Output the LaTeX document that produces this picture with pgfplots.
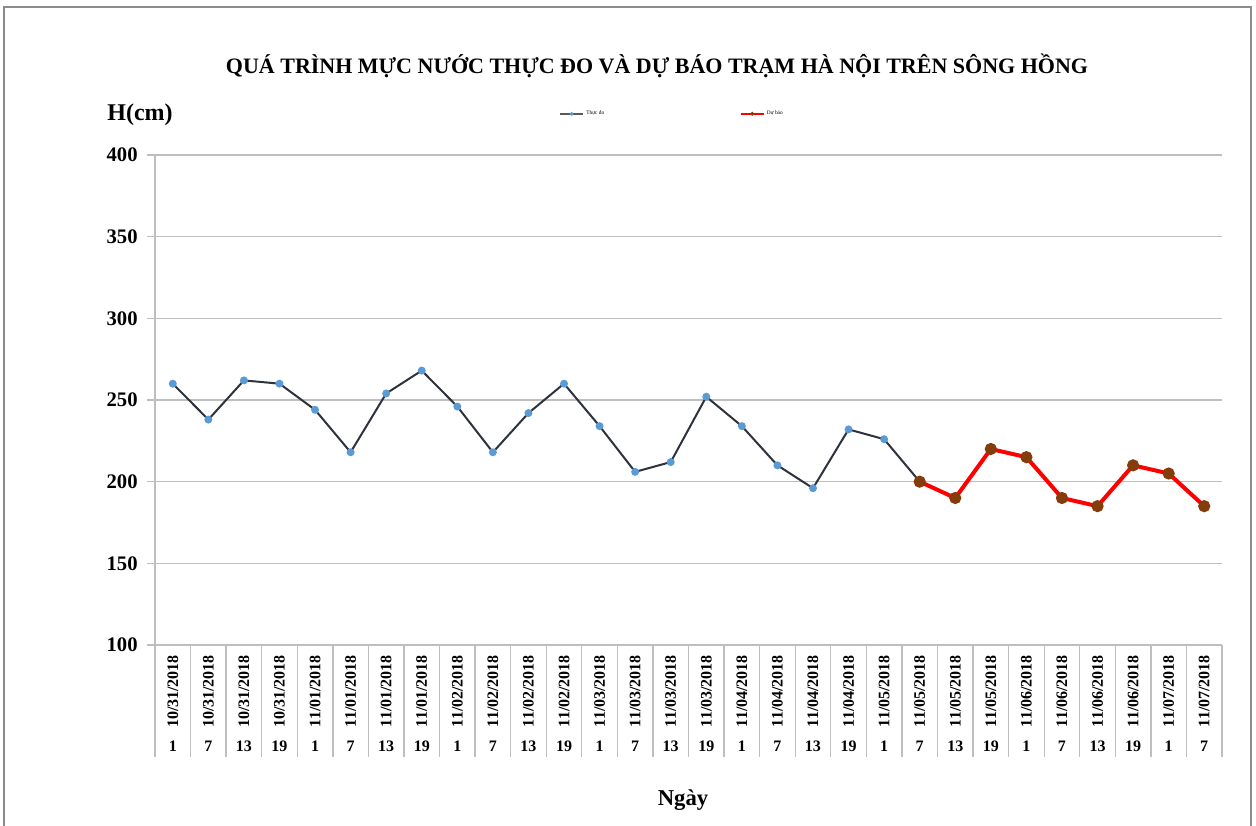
\documentclass[border=0pt]{standalone}
\usepackage{graphicx}
\usepackage{pgfplots}
\pgfplotsset{compat=1.18}
\usepackage{fontspec}
\setmainfont{Liberation Serif}
\definecolor{obsline}{RGB}{45,50,60}
\definecolor{obsmark}{RGB}{91,155,213}
\definecolor{fcline}{RGB}{255,0,0}
\definecolor{fcmark}{RGB}{132,60,12}
\definecolor{gridc}{RGB}{190,190,190}
\newcommand\lb[2]{\rotatebox{90}{#1}\\[5pt]#2}
\begin{document}
\begin{tikzpicture}[x=0.75pt,y=0.75pt]
\useasboundingbox (0,0) rectangle (1256,825);
\draw[gray!90, line width=1.1pt] (4,-5) -- (4,818) -- (1251,818) -- (1251,-5);
\node[font=\bfseries\fontsize{16.5}{18}\selectfont] at (657,759) {QUÁ TRÌNH MỰC NƯỚC THỰC ĐO VÀ DỰ BÁO TRẠM HÀ NỘI TRÊN SÔNG HỒNG};
\node[font=\bfseries\fontsize{18}{20}\selectfont] at (140,710) {H(cm)};
\node[font=\bfseries\fontsize{17}{19}\selectfont] at (683,25) {Ngày};
\begin{axis}[at={(116.25pt,135pt)}, anchor=south west, scale only axis,
  width=800.25pt, height=367.5pt,
  xmin=-0.5, xmax=29.5, ymin=100, ymax=400,
  ytick={100,150,...,400},
  axis x line*=bottom, axis y line*=left,
  axis line style={gridc, line width=1pt},
  ymajorgrids, grid style={gridc, line width=0.8pt},
  tick align=outside, major tick length=6pt,
  y tick style={gridc, line width=0.8pt},
  xtick={0,...,29}, major x tick style={draw=none},
  minor xtick={-0.5,0.5,...,29.5},
  minor x tick style={gridc, line width=1pt}, minor tick length=84pt,
  /pgf/number format/assume math mode=true,
  yticklabel style={font=\bfseries\fontsize{15.5}{16}\selectfont, xshift=-3.5pt},
  xticklabel style={font=\bfseries\fontsize{12}{13}\selectfont, align=center, anchor=north, yshift=2pt},
  xticklabels={
    \lb{10/31/2018}{1},\lb{10/31/2018}{7},\lb{10/31/2018}{13},\lb{10/31/2018}{19},
    \lb{11/01/2018}{1},\lb{11/01/2018}{7},\lb{11/01/2018}{13},\lb{11/01/2018}{19},
    \lb{11/02/2018}{1},\lb{11/02/2018}{7},\lb{11/02/2018}{13},\lb{11/02/2018}{19},
    \lb{11/03/2018}{1},\lb{11/03/2018}{7},\lb{11/03/2018}{13},\lb{11/03/2018}{19},
    \lb{11/04/2018}{1},\lb{11/04/2018}{7},\lb{11/04/2018}{13},\lb{11/04/2018}{19},
    \lb{11/05/2018}{1},\lb{11/05/2018}{7},\lb{11/05/2018}{13},\lb{11/05/2018}{19},
    \lb{11/06/2018}{1},\lb{11/06/2018}{7},\lb{11/06/2018}{13},\lb{11/06/2018}{19},
    \lb{11/07/2018}{1},\lb{11/07/2018}{7}},
  legend columns=2,
  legend style={draw=none, fill=none, font=\fontsize{4}{5}\selectfont,
    at={(0.485,1.084)}, anchor=center,
    /tikz/every even column/.append style={column sep=100pt}},
]
\addplot[obsline, line width=1.5pt, mark=*, mark size=2.2pt,
  mark options={draw=obsmark, fill=obsmark}, forget plot] coordinates {
  (0,260) (1,238) (2,262) (3,260) (4,244) (5,218) (6,254) (7,268)
  (8,246) (9,218) (10,242) (11,260) (12,234) (13,206) (14,212) (15,252)
  (16,234) (17,210) (18,196) (19,232) (20,226) (21,200)};
\addplot[fcline, line width=3pt, mark=*, mark size=3pt,
  mark options={draw=fcmark, fill=fcmark}, forget plot] coordinates {
  (21,200) (22,190) (23,220) (24,215) (25,190) (26,185) (27,210) (28,205) (29,185)};
\addlegendimage{gray!70!black, line width=1pt, mark=*, mark size=0.9pt, mark options={draw=obsmark, fill=obsmark}}
\addlegendentry{Thực đo}
\addlegendimage{fcline, line width=1pt, mark=*, mark size=0.9pt, mark options={draw=fcmark, fill=fcmark}}
\addlegendentry{Dự báo}
\end{axis}
\end{tikzpicture}
\end{document}
